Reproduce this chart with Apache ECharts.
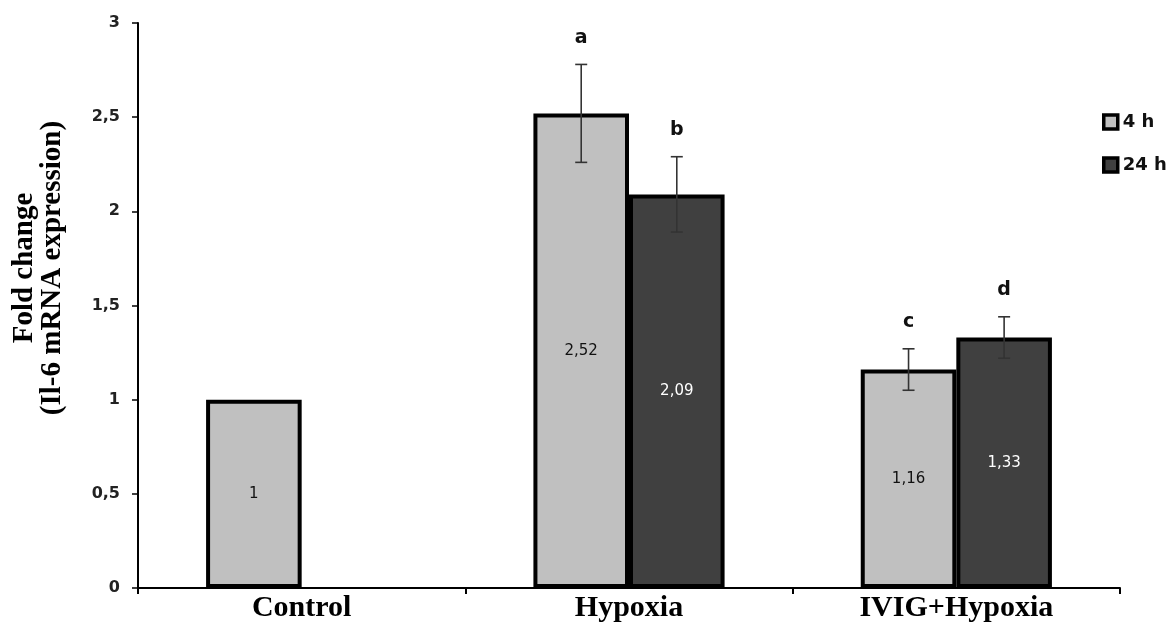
<!DOCTYPE html>
<html>
<head>
<meta charset="utf-8">
<script src="https://cdn.jsdelivr.net/npm/echarts@6/dist/echarts.min.js"></script>
<style>
html,body{margin:0;padding:0;background:#fff;}
#chart{width:1169px;height:635px;}
</style>
</head>
<body>
<div id="chart"></div>
<script>
// ---- data ----
const categories = ['Control', 'Hypoxia', 'IVIG+Hypoxia'];
const seriesNames = ['4 h', '24 h'];
const values4h = [1, 2.52, 1.16];
const values24h = [null, 2.09, 1.33];
const err4h = [null, 0.26, 0.11];
const err24h = [null, 0.20, 0.11];
const letters4h = ['', 'a', 'c'];
const letters24h = ['', 'b', 'd'];
const yTicks = [0, 0.5, 1, 1.5, 2, 2.5, 3];
const yTitleLines = ['Fold change', '(Il-6 mRNA expression)'];

// ---- chart ----
const BAR_FRAC = 0.292;
const fmt = v => String(v).replace('.', ',');

function errData(vals, errs, side) {
  const out = [];
  vals.forEach((v, i) => {
    if (v == null || errs[i] == null) return;
    out.push([i, v - errs[i], v + errs[i], side]);
  });
  return out;
}

function makeRender(letters) {
  return function (params, api) {
    const cat = api.value(0);
    const lo = api.value(1), hi = api.value(2), side = api.value(3);
    const letter = letters[cat] || '';
    const band = api.size([1, 0])[0];
    const bw = band * BAR_FRAC;
    const pTop = api.coord([cat, hi]);
    const pBot = api.coord([cat, lo]);
    const x = pTop[0] + side * bw / 2;
    const cap = 6;
    const st = { stroke: '#333', lineWidth: 1.6 };
    return {
      type: 'group',
      children: [
        { type: 'line', shape: { x1: x, y1: pTop[1], x2: x, y2: pBot[1] }, style: st },
        { type: 'line', shape: { x1: x - cap, y1: pTop[1], x2: x + cap, y2: pTop[1] }, style: st },
        { type: 'line', shape: { x1: x - cap, y1: pBot[1], x2: x + cap, y2: pBot[1] }, style: st },
        { type: 'text', x: x, y: pTop[1] - 17,
          style: { text: letter, align: 'center', verticalAlign: 'bottom',
            fill: '#111', fontSize: 19, fontWeight: 'bold', fontFamily: 'DejaVu Sans' } }
      ]
    };
  };
}

const chart = echarts.init(document.getElementById('chart'), null, { renderer: 'canvas' });
chart.setOption({
  animation: false,
  backgroundColor: '#fff',
  grid: { left: 138, right: 49, top: 23, bottom: 47, containLabel: false },
  legend: {
    orient: 'vertical',
    left: 1097,
    top: 108,
    itemWidth: 14,
    itemHeight: 14,
    itemGap: 25,
    icon: 'rect',
    textStyle: { fontFamily: 'DejaVu Sans', fontWeight: 'bold', fontSize: 18, color: '#111' },
    itemStyle: { borderColor: '#000', borderWidth: 3.5 },
    data: seriesNames
  },
  graphic: [{
    type: 'text',
    x: 39, y: 268,
    rotation: Math.PI / 2,
    style: {
      text: yTitleLines.join('\n'),
      align: 'center',
      verticalAlign: 'middle',
      lineHeight: 28,
      fill: '#000',
      font: 'bold 29px "Liberation Serif"'
    }
  }],
  xAxis: {
    type: 'category',
    data: categories,
    axisLine: { lineStyle: { color: '#000', width: 2 } },
    axisTick: { show: true, length: 6, lineStyle: { color: '#000', width: 2 } },
    axisLabel: { margin: 5, color: '#000', fontFamily: 'Liberation Serif', fontWeight: 'bold', fontSize: 30 }
  },
  yAxis: {
    type: 'value',
    min: 0, max: 3, interval: 0.5,
    splitLine: { show: false },
    axisLine: { show: true, lineStyle: { color: '#000', width: 2 } },
    axisTick: { show: true, length: 6, lineStyle: { color: '#000', width: 1.5 } },
    axisLabel: {
      margin: 18, color: '#222', fontFamily: 'DejaVu Sans', fontWeight: 'bold', fontSize: 16,
      formatter: v => yTicks.includes(v) ? fmt(v) : ''
    }
  },
  series: [
    {
      name: seriesNames[0], type: 'bar', data: values4h,
      barWidth: (BAR_FRAC * 100) + '%', barGap: '0%',
      itemStyle: { color: '#c0c0c0', borderColor: '#000', borderWidth: 4 },
      label: { show: true, position: 'inside', formatter: p => fmt(p.value), color: '#111',
        fontFamily: 'DejaVu Sans', fontSize: 15 },
      z: 2
    },
    {
      name: seriesNames[1], type: 'bar', data: values24h,
      barWidth: (BAR_FRAC * 100) + '%', barGap: '0%',
      itemStyle: { color: '#404040', borderColor: '#000', borderWidth: 4 },
      label: { show: true, position: 'inside', formatter: p => p.value == null ? '' : fmt(p.value), color: '#fff',
        fontFamily: 'DejaVu Sans', fontSize: 15 },
      z: 2
    },
    {
      type: 'custom', name: 'err4', renderItem: makeRender(letters4h), data: errData(values4h, err4h, -1),
      z: 5, silent: true
    },
    {
      type: 'custom', name: 'err24', renderItem: makeRender(letters24h), data: errData(values24h, err24h, 1),
      z: 5, silent: true
    }
  ]
});
</script>
</body>
</html>
